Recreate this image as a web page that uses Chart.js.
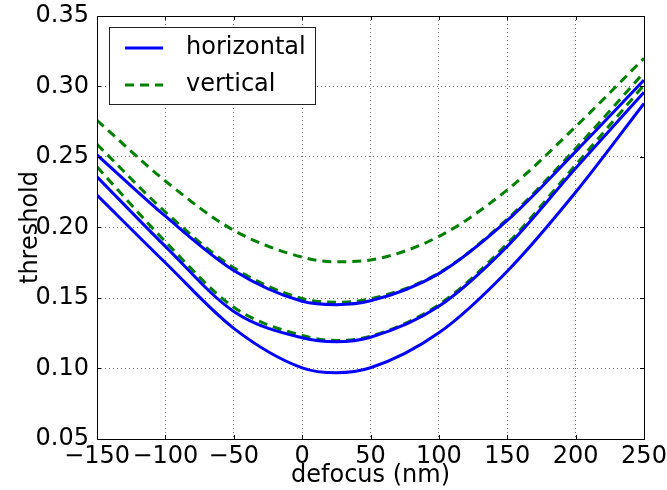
<!DOCTYPE html>
<html>
<head>
<meta charset="utf-8">
<script src="https://cdn.jsdelivr.net/npm/chart.js@4"></script>
<style>
html, body { margin: 0; padding: 0; background: #fff; }
</style>
</head>
<body>
<canvas id="chart" width="667" height="490"></canvas>
<script>
// values
const defocus = [-150, -100, -50, 0, 25, 50, 100, 150, 200, 250];

const horizontalLow  = [0.223, 0.175, 0.1285, 0.1005, 0.097, 0.1005, 0.1253, 0.169, 0.225, 0.288];
const horizontalMid  = [0.236, 0.1866, 0.1405, 0.1218, 0.119, 0.1222, 0.1441, 0.1866, 0.242, 0.296];
const horizontalHigh = [0.2515, 0.208, 0.1695, 0.1477, 0.1453, 0.148, 0.1673, 0.205, 0.2538, 0.3045];

const verticalLow  = [0.243, 0.190, 0.1435, 0.1234, 0.1199, 0.1229, 0.1453, 0.1885, 0.2444, 0.301];
const verticalMid  = [0.259, 0.211, 0.1715, 0.1496, 0.147, 0.1494, 0.1677, 0.206, 0.256, 0.310];
const verticalHigh = [0.276, 0.233, 0.198, 0.179, 0.1757, 0.177, 0.1937, 0.2267, 0.2715, 0.320];

const xTicks = [-150, -100, -50, 0, 50, 100, 150, 200, 250];
const yTicks = [0.05, 0.10, 0.15, 0.20, 0.25, 0.30, 0.35];

const FONT = '"DejaVu Sans", "Liberation Sans", sans-serif';
const BLUE = '#0000ff';
const GREEN = '#008000';

function points(ys) {
    return defocus.map((x, i) => ({x: x, y: ys[i]}));
}

function hLine(label, ys) {
    return {label: label, data: points(ys), borderColor: BLUE, borderWidth: 3,
        pointRadius: 0, fill: false, cubicInterpolationMode: 'monotone'};
}
function vLine(label, ys) {
    return {label: label, data: points(ys), borderColor: GREEN, borderWidth: 3,
        borderDash: [9, 6], pointRadius: 0, fill: false, cubicInterpolationMode: 'monotone'};
}

// frame, inward tick marks and the legend box
const framePlugin = {
    id: 'frame',
    afterDraw(chart) {
        const ctx = chart.ctx;
        const a = chart.chartArea;
        const xs = chart.scales.x, ys = chart.scales.y;
        ctx.save();
        ctx.strokeStyle = '#000';
        ctx.lineWidth = 1;
        ctx.beginPath();
        xTicks.forEach(v => {
            const p = Math.round(xs.getPixelForValue(v)) + 0.5;
            ctx.moveTo(p, a.bottom); ctx.lineTo(p, a.bottom - 4);
            ctx.moveTo(p, a.top); ctx.lineTo(p, a.top + 4);
        });
        yTicks.forEach(v => {
            const p = Math.round(ys.getPixelForValue(v)) + 0.5;
            ctx.moveTo(a.left, p); ctx.lineTo(a.left + 4, p);
            ctx.moveTo(a.right, p); ctx.lineTo(a.right - 4, p);
        });
        ctx.stroke();
        ctx.strokeRect(Math.round(a.left) + 0.5, Math.round(a.top) + 0.5,
            Math.round(a.right - a.left), Math.round(a.bottom - a.top));

        // legend
        const bx = 109, by = 27, bw = 206, bh = 77;
        ctx.fillStyle = '#fff';
        ctx.fillRect(bx, by, bw, bh);
        ctx.strokeStyle = '#222';
        ctx.strokeRect(bx + 0.5, by + 0.5, bw, bh);
        const seen = [];
        chart.data.datasets.forEach(ds => {
            if (seen.find(s => s.label === ds.label)) return;
            seen.push(ds);
        });
        seen.forEach((ds, i) => {
            const y = by + 21 + i * 37;
            ctx.beginPath();
            ctx.strokeStyle = ds.borderColor;
            ctx.lineWidth = ds.borderWidth;
            ctx.setLineDash(ds.borderDash || []);
            ctx.moveTo(125, y); ctx.lineTo(163, y);
            ctx.stroke();
            ctx.setLineDash([]);
            ctx.fillStyle = '#000';
            ctx.font = '24px ' + FONT;
            ctx.textBaseline = 'middle';
            ctx.fillText(ds.label, 186, y);
        });
        ctx.restore();
    }
};

new Chart(document.getElementById('chart'), {
    type: 'line',
    data: {
        datasets: [
            hLine('horizontal', horizontalLow),
            hLine('horizontal', horizontalMid),
            hLine('horizontal', horizontalHigh),
            vLine('vertical', verticalLow),
            vLine('vertical', verticalMid),
            vLine('vertical', verticalHigh)
        ]
    },
    options: {
        responsive: false,
        animation: false,
        layout: {padding: {top: 16, right: 23, left: 0, bottom: 0}},
        plugins: {legend: {display: false}, tooltip: {enabled: false}},
        scales: {
            x: {
                type: 'linear',
                min: -150,
                max: 250,
                afterFit: s => { s.height = 51; s.paddingLeft = 0; s.paddingRight = 0; },
                afterBuildTicks: s => { s.ticks = xTicks.map(v => ({value: v})); },
                ticks: {
                    color: '#000',
                    padding: 3,
                    maxRotation: 0,
                    autoSkip: false,
                    font: {family: FONT, size: 24},
                    callback: v => String(v).replace('-', '\u2212')
                },
                grid: {color: 'rgba(0,0,0,0.55)', drawTicks: false},
                border: {display: false, dash: [1, 3]},
                title: {display: true, text: 'defocus (nm)', color: '#000',
                    font: {family: FONT, size: 24}, padding: {top: 0, bottom: 0}}
            },
            y: {
                min: 0.05,
                max: 0.35,
                afterFit: s => { s.width = 97; s.paddingTop = 0; s.paddingBottom = 0; },
                afterBuildTicks: s => { s.ticks = yTicks.map(v => ({value: v})); },
                ticks: {
                    color: '#000',
                    padding: 8,
                    autoSkip: false,
                    font: {family: FONT, size: 24},
                    callback: v => v.toFixed(2)
                },
                grid: {color: 'rgba(0,0,0,0.55)', drawTicks: false},
                border: {display: false, dash: [1, 3]},
                title: {display: true, text: 'threshold', color: '#000',
                    font: {family: FONT, size: 24}, padding: {top: 16, bottom: 0}}
            }
        }
    },
    plugins: [framePlugin]
});
</script>
</body>
</html>
